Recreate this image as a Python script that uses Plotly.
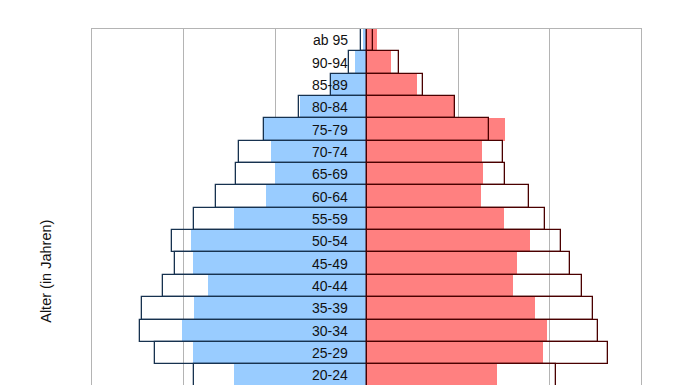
import plotly.graph_objects as go

age_groups = ["ab 95", "90-94", "85-89", "80-84", "75-79", "70-74", "65-69", "60-64",
              "55-59", "50-54", "45-49", "40-44", "35-39", "30-34", "25-29", "20-24"]

male_fill = [0.04, 0.13, 0.39, 0.73, 1.13, 1.04, 1.00, 1.10,
             1.45, 1.92, 1.90, 1.73, 1.88, 2.02, 1.90, 1.45]
male_outline = [0.06, 0.19, 0.39, 0.74, 1.12, 1.39, 1.43, 1.65,
                1.88, 2.13, 2.09, 2.22, 2.45, 2.48, 2.31, 1.89]
female_fill = [0.11, 0.27, 0.55, 0.97, 1.51, 1.26, 1.27, 1.25,
               1.50, 1.79, 1.65, 1.60, 1.84, 1.97, 1.93, 1.43]
female_outline = [0.07, 0.35, 0.62, 0.97, 1.34, 1.49, 1.51, 1.78,
                  1.95, 2.13, 2.22, 2.36, 2.48, 2.53, 2.64, 2.07]

y_title = "Alter (in Jahren)"

BLUE = "#99ccff"
RED = "#ff8080"
NAVY = "#17324f"
MAROON = "#4a0000"

fig = go.Figure()
fig.add_trace(go.Bar(y=age_groups, x=[-v for v in male_fill], orientation="h",
                     marker=dict(color=BLUE, line=dict(width=0)), showlegend=False))
fig.add_trace(go.Bar(y=age_groups, x=female_fill, orientation="h",
                     marker=dict(color=RED, line=dict(width=0)), showlegend=False))
fig.add_trace(go.Bar(y=age_groups, x=[-v for v in male_outline], orientation="h",
                     marker=dict(color="rgba(0,0,0,0)", line=dict(color=NAVY, width=1.3)),
                     showlegend=False))
fig.add_trace(go.Bar(y=age_groups, x=female_outline, orientation="h",
                     marker=dict(color="rgba(0,0,0,0)", line=dict(color=MAROON, width=1.3)),
                     showlegend=False))

for g in age_groups:
    fig.add_annotation(x=0, y=g, xref="x", yref="y", text=g, showarrow=False,
                       xanchor="right", yanchor="middle", xshift=-17,
                       font=dict(family="Liberation Sans, Arial", size=14, color="#111111"))

fig.add_annotation(x=0, y=0.318, xref="paper", yref="paper", text=y_title,
                   showarrow=False, textangle=-90, xshift=-46, xanchor="center",
                   yanchor="middle",
                   font=dict(family="Liberation Sans, Arial", size=14.5, color="#111111"))

# The page body has an 8px margin, so the figure is offset by 8px.
fig.update_layout(
    width=665, height=377,
    margin=dict(l=84, r=32, t=21, b=0),
    paper_bgcolor="white", plot_bgcolor="white",
    barmode="overlay", bargap=0,
    xaxis=dict(range=[-3, 3], dtick=1, showgrid=True, gridcolor="#b4b4b4", gridwidth=1,
               zeroline=False, showticklabels=False, showline=True, linecolor="#b4b4b4",
               mirror=True, ticks=""),
    yaxis=dict(categoryorder="array", categoryarray=age_groups, range=[15.43, -0.5],
               showticklabels=False, showgrid=False, zeroline=False, showline=True,
               linecolor="#b4b4b4", mirror=True, ticks=""),
)

fig.write_html("out.html")
